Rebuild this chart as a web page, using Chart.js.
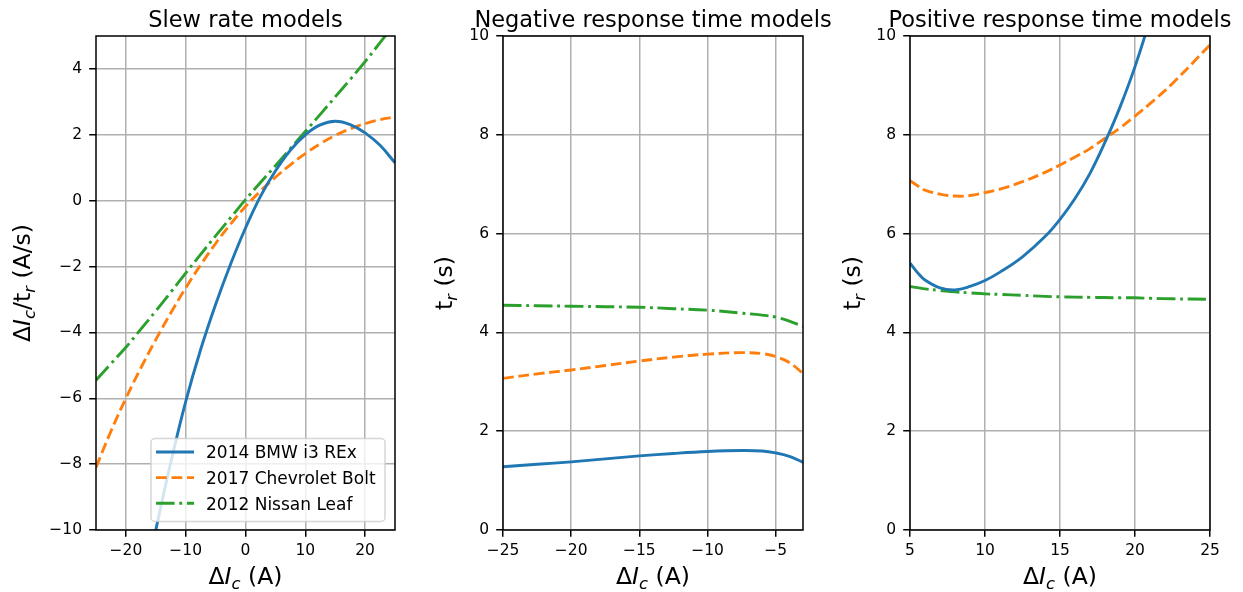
<!DOCTYPE html>
<html><head><meta charset="utf-8">
<script src="https://cdn.jsdelivr.net/npm/chart.js@4.4.1/dist/chart.umd.min.js"></script>
<style>
html,body{margin:0;padding:0;background:#fff;width:1243px;height:592px;overflow:hidden;}
canvas{position:absolute;top:0;}
</style></head><body>
<canvas id="c1" width="430" height="592" style="left:0px;width:430px;height:592px"></canvas>
<canvas id="c2" width="410" height="592" style="left:430px;width:410px;height:592px"></canvas>
<canvas id="c3" width="403" height="592" style="left:840px;width:403px;height:592px"></canvas>
<script>
// ---------- data ----------
const seriesNames = ['2014 BMW i3 REx', '2017 Chevrolet Bolt', '2012 Nissan Leaf'];
const panelTitles = ['Slew rate models', 'Negative response time models', 'Positive response time models'];

// Panel 1: slew rate (A/s) vs ΔIc (A)
const slewX    = [-25, -22.5, -20, -17.5, -15, -12.5, -10, -7.5, -5, -2.5, 0, 2.5, 5, 7.5, 10, 12.5, 15, 17.5, 20, 22.5, 25];
const slewBMW  = [-19.7, -17.0, -14.5, -12.15, -10.0, -7.95, -6.1, -4.52, -3.15, -1.93, -0.83, 0.13, 0.9, 1.53, 2.0, 2.3, 2.41, 2.31, 2.06, 1.68, 1.15];
const slewBolt = [-8.1, -7.0, -6.0, -5.08, -4.22, -3.41, -2.65, -1.95, -1.3, -0.71, -0.18, 0.29, 0.71, 1.09, 1.43, 1.73, 1.98, 2.18, 2.34, 2.46, 2.54];
const slewLeaf = [-5.45, -4.95, -4.45, -3.9, -3.35, -2.78, -2.2, -1.63, -1.07, -0.52, 0.03, 0.55, 1.06, 1.58, 2.1, 2.62, 3.15, 3.68, 4.22, 4.8, 5.38];

// Panel 2: negative response time (s)
const negX    = [-25, -22.5, -20, -17.5, -15, -12.5, -10, -7.5, -6, -5, -4, -3];
const negBMW  = [1.28, 1.33, 1.38, 1.44, 1.50, 1.55, 1.59, 1.61, 1.60, 1.56, 1.49, 1.37];
const negBolt = [3.07, 3.16, 3.24, 3.33, 3.42, 3.50, 3.56, 3.59, 3.57, 3.51, 3.39, 3.17];
const negLeaf = [4.55, 4.54, 4.53, 4.52, 4.51, 4.48, 4.45, 4.39, 4.35, 4.31, 4.23, 4.12];

// Panel 3: positive response time (s)
const posX    = [5, 5.5, 6, 7, 8, 9, 10, 11, 12.5, 14, 15, 16, 17, 18, 19, 20, 21, 22.5, 25];
const posBMW  = [5.40, 5.21, 5.06, 4.90, 4.86, 4.93, 5.05, 5.22, 5.53, 5.94, 6.29, 6.71, 7.22, 7.85, 8.56, 9.38, 10.35, 12.07, 15.8];
const posBolt = [7.07, 6.97, 6.88, 6.80, 6.76, 6.77, 6.83, 6.90, 7.05, 7.24, 7.39, 7.55, 7.72, 7.93, 8.14, 8.38, 8.63, 9.04, 9.82];
const posLeaf = [4.93, 4.905, 4.88, 4.85, 4.82, 4.80, 4.78, 4.77, 4.75, 4.73, 4.72, 4.715, 4.71, 4.705, 4.70, 4.70, 4.69, 4.68, 4.67];

// tick labels
const slewXTicks = [-20, -10, 0, 10, 20];
const slewYTicks = [-10, -8, -6, -4, -2, 0, 2, 4];
const negXTicks  = [-25, -20, -15, -10, -5];
const posXTicks  = [5, 10, 15, 20, 25];
const tYTicks    = [0, 2, 4, 6, 8, 10];

// ---------- styles ----------
const FONT = "'DejaVu Sans'";
const COLORS = ['#1f77b4', '#ff7f0e', '#2ca02c'];
const LW = 2.9;
const DASHES = [[], [10.8, 4.7], [18.6, 4.7, 2.9, 4.7]];

function pts(xs, ys) { return xs.map((x, i) => ({ x: x, y: ys[i] })); }
function fmt(v) { return v < 0 ? '\u2212' + Math.abs(v) : String(v); }

function datasets(xs, arrs) {
  return arrs.map((ys, i) => ({
    label: seriesNames[i],
    data: pts(xs, ys),
    borderColor: COLORS[i],
    backgroundColor: COLORS[i],
    borderWidth: LW,
    borderDash: DASHES[i],
    borderCapStyle: 'butt',
    pointRadius: 0,
    fill: false,
    tension: 0.4,
    capBezierPoints: false,
    clip: 0
  }));
}

function drawRich(ctx, segs, cx, y, size) {
  const items = segs.map(s => {
    const sz = s.sub ? size * 0.7 : size;
    const f = (s.it ? 'italic ' : '') + sz + 'px ' + FONT;
    ctx.font = f;
    return { s: s, f: f, w: ctx.measureText(s.t).width };
  });
  const total = items.reduce((a, b) => a + b.w, 0);
  let x = cx - total / 2;
  ctx.textAlign = 'left';
  ctx.textBaseline = 'alphabetic';
  items.forEach(it => {
    ctx.font = it.f;
    ctx.fillText(it.s.t, x, y + (it.s.sub ? size * 0.2 : 0));
    x += it.w;
  });
}

const decor = {
  id: 'decor',
  afterDraw(chart, args, o) {
    const ctx = chart.ctx, ca = chart.chartArea;
    ctx.save();
    // frame (spines)
    ctx.strokeStyle = '#000';
    ctx.lineWidth = 1.5;
    ctx.setLineDash([]);
    ctx.strokeRect(ca.left, ca.top, ca.right - ca.left, ca.bottom - ca.top);
    // legend
    if (o.legend) {
      const L = o.legend;
      ctx.beginPath();
      ctx.roundRect(L.x0, L.y0, L.x1 - L.x0, L.y1 - L.y0, 4);
      ctx.fillStyle = 'rgba(255,255,255,0.8)';
      ctx.fill();
      ctx.strokeStyle = 'rgba(204,204,204,0.8)';
      ctx.lineWidth = 1.5;
      ctx.stroke();
      chart.data.datasets.forEach((ds, i) => {
        const cy = L.rows[i];
        ctx.beginPath();
        ctx.strokeStyle = ds.borderColor;
        ctx.lineWidth = ds.borderWidth;
        ctx.lineCap = 'butt';
        ctx.setLineDash(ds.borderDash);
        ctx.moveTo(L.hx0, cy);
        ctx.lineTo(L.hx1, cy);
        ctx.stroke();
        ctx.setLineDash([]);
        ctx.fillStyle = '#000';
        ctx.font = '17px ' + FONT;
        ctx.textAlign = 'left';
        ctx.textBaseline = 'alphabetic';
        ctx.fillText(ds.label, L.tx, cy + 6.2);
      });
    }
    // title
    ctx.fillStyle = '#000';
    ctx.font = '22.5px ' + FONT;
    ctx.textAlign = 'center';
    ctx.textBaseline = 'alphabetic';
    ctx.fillText(o.title, (ca.left + ca.right) / 2, 26.5);
    // x label
    drawRich(ctx, o.xLabel, (ca.left + ca.right) / 2, 584, 23.5);
    // y label
    ctx.translate(o.yLabelX, (ca.top + ca.bottom) / 2);
    ctx.rotate(-Math.PI / 2);
    drawRich(ctx, o.yLabel, 0, 0, 23.5);
    ctx.restore();
  }
};

const xLab = [{ t: '\u0394' }, { t: 'I', it: 1 }, { t: 'c', it: 1, sub: 1 }, { t: ' (A)' }];
const yLabSlew = [{ t: '\u0394' }, { t: 'I', it: 1 }, { t: 'c', it: 1, sub: 1 }, { t: '/t' }, { t: 'r', it: 1, sub: 1 }, { t: ' (A/s)' }];
const yLabT = [{ t: 't' }, { t: 'r', it: 1, sub: 1 }, { t: ' (s)' }];

function makeChart(id, cfg) {
  const tickFont = { family: FONT, size: 15.5 };
  const grid = { color: '#b0b0b0', lineWidth: 1.5, tickColor: '#000', tickWidth: 1.5, tickLength: 6.8, drawOnChartArea: true, drawTicks: true };
  return new Chart(document.getElementById(id), {
    type: 'line',
    data: { datasets: cfg.datasets },
    options: {
      responsive: false,
      animation: false,
      devicePixelRatio: 1,
      layout: { padding: { left: 0, right: cfg.rightPad, top: 36, bottom: 0 } },
      plugins: {
        legend: { display: false },
        tooltip: { enabled: false },
        title: { display: false },
        decor: cfg.decor
      },
      scales: {
        x: {
          type: 'linear', min: cfg.xMin, max: cfg.xMax,
          afterBuildTicks: s => { s.ticks = cfg.xTicks.map(v => ({ value: v })); },
          afterFit: s => { s.height = 62; },
          grid: grid,
          border: { display: false },
          ticks: { font: tickFont, color: '#000', padding: 5, maxRotation: 0, autoSkip: false, callback: v => fmt(v) }
        },
        y: {
          type: 'linear', min: cfg.yMin, max: cfg.yMax,
          afterBuildTicks: s => { s.ticks = cfg.yTicks.map(v => ({ value: v })); },
          afterFit: s => { s.width = cfg.yWidth; },
          grid: grid,
          border: { display: false },
          ticks: { font: tickFont, color: '#000', padding: 7.2, autoSkip: false, callback: v => fmt(v) }
        }
      }
    },
    plugins: [decor]
  });
}

makeChart('c1', {
  datasets: datasets(slewX, [slewBMW, slewBolt, slewLeaf]),
  xMin: -25, xMax: 25, yMin: -10, yMax: 5,
  xTicks: slewXTicks, yTicks: slewYTicks,
  yWidth: 96, rightPad: 35,
  decor: {
    title: panelTitles[0], xLabel: xLab, yLabel: yLabSlew, yLabelX: 30,
    legend: { x0: 151, y0: 438.5, x1: 385, y1: 521.5, rows: [452, 477.6, 503.3], hx0: 156, hx1: 194, tx: 206 }
  }
});
makeChart('c2', {
  datasets: datasets(negX, [negBMW, negBolt, negLeaf]),
  xMin: -25, xMax: -3, yMin: 0, yMax: 10,
  xTicks: negXTicks, yTicks: tYTicks,
  yWidth: 73, rightPad: 37,
  decor: { title: panelTitles[1], xLabel: xLab, yLabel: yLabT, yLabelX: 22 }
});
makeChart('c3', {
  datasets: datasets(posX, [posBMW, posBolt, posLeaf]),
  xMin: 5, xMax: 25, yMin: 0, yMax: 10,
  xTicks: posXTicks, yTicks: tYTicks,
  yWidth: 70, rightPad: 33,
  decor: { title: panelTitles[2], xLabel: xLab, yLabel: yLabT, yLabelX: 20 }
});
</script>
</body></html>
